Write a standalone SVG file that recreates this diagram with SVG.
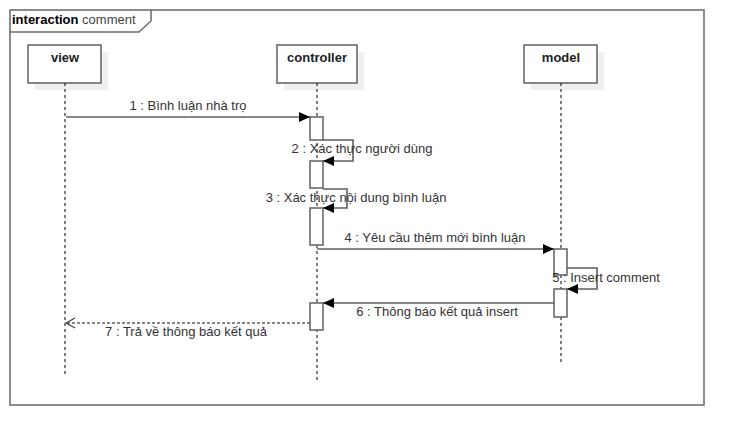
<svg xmlns="http://www.w3.org/2000/svg" width="744" height="445" viewBox="0 0 744 445">
<style>
.frame{fill:none;stroke:#707070;stroke-width:1.6}
.box{fill:#fff;stroke:#6a6a6a;stroke-width:1.6}
.shadow{fill:#efefef;stroke:none}
.act{fill:#fff;stroke:#6a6a6a;stroke-width:1.6}
.life{fill:none;stroke:#000;stroke-width:1;stroke-dasharray:3,3}
.msg{fill:none;stroke:#5f5f5f;stroke-width:1.6}
.ret{fill:none;stroke:#5f5f5f;stroke-width:1.4;stroke-dasharray:3,2}
.name{font-family:"Liberation Sans",Arial,sans-serif;font-size:13px;font-weight:bold;fill:#222;text-anchor:middle}
.lbl{font-family:"Liberation Sans",Arial,sans-serif;font-size:13px;fill:#333;text-anchor:middle}
.title{font-family:"Liberation Sans",Arial,sans-serif;font-size:13px;fill:#444}
</style>
<defs>
<marker id="filled" markerWidth="12" markerHeight="10" refX="11" refY="5" orient="auto" markerUnits="userSpaceOnUse">
<path d="M0,0 L11,5 L0,10 Z" fill="#000"/>
</marker>
<marker id="open" markerWidth="12" markerHeight="12" refX="10" refY="6" orient="auto" markerUnits="userSpaceOnUse">
<path d="M1,1 L10,6 L1,11" fill="none" stroke="#444" stroke-width="1.2"/>
</marker>
</defs>
<rect width="744" height="445" fill="#fff"/>
<g id="frame">
<rect class="frame" x="10" y="10" width="694" height="395"/>
<path class="frame" d="M10,32 L139,32 L151,21 L151,10"/>
<text class="title" x="12" y="24"><tspan font-weight="bold" fill="#000">interaction</tspan> comment</text>
</g>
<g id="view">
<rect class="shadow" x="35" y="52" width="73" height="38"/>
<rect class="box" x="28" y="45" width="73" height="38"/>
<text class="name" x="65" y="62">view</text>
<line class="life" x1="65" y1="83" x2="65" y2="375"/>
</g>
<g id="controller">
<rect class="shadow" x="284" y="52" width="80" height="38"/>
<rect class="box" x="277" y="45" width="80" height="38"/>
<text class="name" x="317" y="62">controller</text>
<line class="life" x1="317" y1="83" x2="317" y2="380"/>
</g>
<g id="model">
<rect class="shadow" x="531" y="52" width="73" height="38"/>
<rect class="box" x="524" y="45" width="73" height="38"/>
<text class="name" x="561" y="62">model</text>
<line class="life" x1="561" y1="83" x2="561" y2="365"/>
</g>
<g id="activations">
<rect class="act" x="310" y="117" width="13" height="23"/>
<rect class="act" x="310" y="161" width="13" height="27"/>
<rect class="act" x="310" y="208" width="13" height="37"/>
<rect class="act" x="310" y="303" width="13" height="27"/>
<rect class="act" x="554" y="249" width="13" height="26"/>
<rect class="act" x="554" y="289" width="13" height="28"/>
</g>
<g id="connectors">
<path class="msg" d="M66,117 H310" marker-end="url(#filled)"/>
<path class="msg" d="M323,140 H353 V161 H323" marker-end="url(#filled)"/>
<path class="msg" d="M323,189 H347 V208 H323" marker-end="url(#filled)"/>
<path class="msg" d="M317,249 H554" marker-end="url(#filled)"/>
<path class="msg" d="M567,268 H597 V289 H567" marker-end="url(#filled)"/>
<path class="msg" d="M554,303 H323" marker-end="url(#filled)"/>
<path class="ret" d="M310,323 H66" marker-end="url(#open)"/>
</g>
<g id="labels">
<text class="lbl" x="188" y="110">1 : Bình luận nhà trọ</text>
<text class="lbl" x="362" y="153">2 : Xác thực người dùng</text>
<text class="lbl" x="356" y="202">3 : Xác thực nội dung bình luận</text>
<text class="lbl" x="435" y="242">4 : Yêu cầu thêm mới bình luận</text>
<text class="lbl" x="606" y="282">5 : Insert comment</text>
<text class="lbl" x="437" y="316">6 : Thông báo kết quả insert</text>
<text class="lbl" x="186" y="336">7 : Trả về thông báo kết quả</text>
</g>
</svg>
